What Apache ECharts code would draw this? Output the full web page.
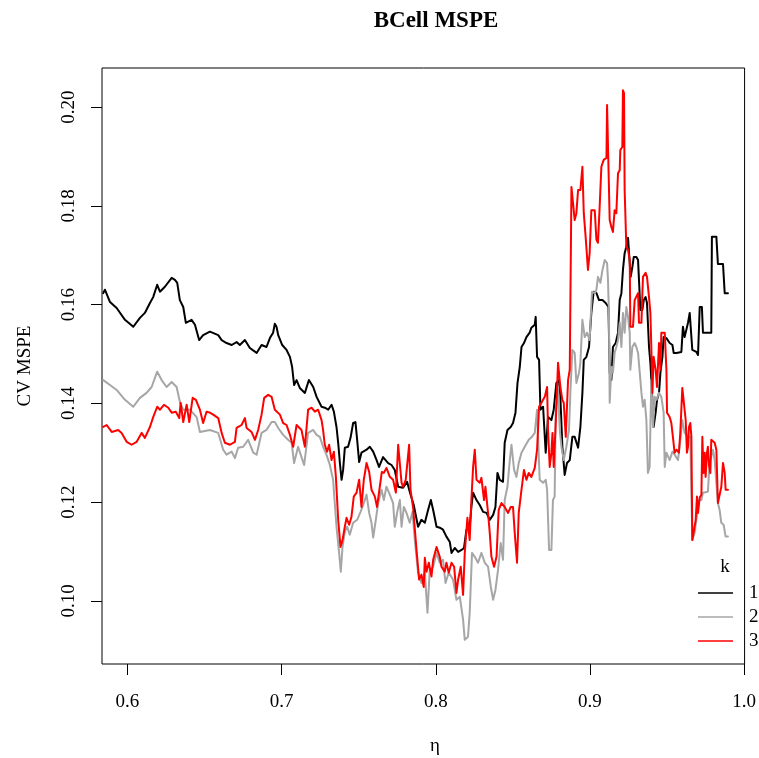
<!DOCTYPE html>
<html><head><meta charset="utf-8">
<script src="https://cdn.jsdelivr.net/npm/echarts@6/dist/echarts.min.js"></script>
<style>html,body{margin:0;padding:0;background:#fff}#c{width:759px;height:758px}</style>
</head><body><div id="c"></div>
<script>
// ---- data: k = 1 (black) ----
const etaK1 = [0.5843,0.5854,0.5887,0.5930,0.5984,0.6038,0.6081,0.6113,0.6146,0.6167,0.6193,0.6211,0.6243,0.6287,0.6308,0.6323,0.6340,0.6362,0.6379,0.6416,0.6438,0.6465,0.6491,0.6535,0.6546,0.6589,0.6611,0.6643,0.6676,0.6708,0.6729,0.6762,0.6794,0.6838,0.6870,0.6902,0.6924,0.6945,0.6956,0.6967,0.6978,0.7004,0.7032,0.7054,0.7068,0.7081,0.7097,0.7118,0.7151,0.7177,0.7205,0.7227,0.7259,0.7280,0.7302,0.7324,0.7339,0.7356,0.7367,0.7378,0.7389,0.7399,0.7410,0.7431,0.7447,0.7464,0.7479,0.7490,0.7503,0.7518,0.7551,0.7572,0.7594,0.7616,0.7632,0.7658,0.7691,0.7713,0.7734,0.7756,0.7788,0.7814,0.7831,0.7857,0.7885,0.7907,0.7929,0.7950,0.7968,0.7983,0.8005,0.8026,0.8047,0.8069,0.8091,0.8102,0.8123,0.8145,0.8167,0.8183,0.8199,0.8220,0.8231,0.8242,0.8264,0.8285,0.8307,0.8329,0.8350,0.8372,0.8387,0.8400,0.8415,0.8436,0.8447,0.8465,0.8486,0.8501,0.8517,0.8530,0.8545,0.8556,0.8572,0.8588,0.8609,0.8620,0.8642,0.8648,0.8657,0.8670,0.8679,0.8696,0.8713,0.8728,0.8750,0.8765,0.8782,0.8799,0.8808,0.8821,0.8836,0.8851,0.8869,0.8886,0.8901,0.8923,0.8938,0.8951,0.8960,0.8977,0.8994,0.9009,0.9024,0.9042,0.9059,0.9081,0.9102,0.9120,0.9128,0.9139,0.9149,0.9167,0.9182,0.9193,0.9204,0.9214,0.9225,0.9236,0.9247,0.9258,0.9264,0.9275,0.9284,0.9301,0.9312,0.9318,0.9327,0.9340,0.9349,0.9361,0.9370,0.9383,0.9392,0.9405,0.9413,0.9426,0.9435,0.9448,0.9457,0.9470,0.9478,0.9496,0.9517,0.9535,0.9543,0.9561,0.9593,0.9603,0.9614,0.9625,0.9636,0.9647,0.9658,0.9664,0.9690,0.9701,0.9712,0.9726,0.9733,0.9787,0.9791,0.9820,0.9830,0.9863,0.9874,0.9895];
const mspeK1 = [0.1623,0.1630,0.1605,0.1593,0.1569,0.1555,0.1573,0.1583,0.1603,0.1615,0.1640,0.1626,0.1636,0.1654,0.1650,0.1644,0.1609,0.1595,0.1563,0.1569,0.1559,0.1528,0.1538,0.1545,0.1549,0.1538,0.1528,0.1522,0.1518,0.1524,0.1518,0.1528,0.1512,0.1502,0.1518,0.1514,0.1532,0.1543,0.1561,0.1555,0.1538,0.1518,0.1508,0.1494,0.1474,0.1437,0.1447,0.1431,0.1421,0.1447,0.1433,0.1413,0.1393,0.1391,0.1387,0.1397,0.1383,0.1352,0.1320,0.1279,0.1245,0.1265,0.1310,0.1312,0.1330,0.1360,0.1362,0.1326,0.1281,0.1300,0.1306,0.1312,0.1302,0.1285,0.1271,0.1291,0.1279,0.1275,0.1265,0.1231,0.1229,0.1241,0.1221,0.1194,0.1150,0.1164,0.1158,0.1184,0.1204,0.1184,0.1150,0.1148,0.1144,0.1130,0.1119,0.1097,0.1107,0.1099,0.1103,0.1107,0.1144,0.1150,0.1190,0.1219,0.1204,0.1194,0.1180,0.1178,0.1164,0.1174,0.1190,0.1259,0.1245,0.1241,0.1320,0.1346,0.1352,0.1360,0.1381,0.1441,0.1474,0.1514,0.1522,0.1534,0.1543,0.1553,0.1559,0.1575,0.1494,0.1488,0.1387,0.1393,0.1300,0.1372,0.1366,0.1387,0.1441,0.1447,0.1413,0.1312,0.1255,0.1279,0.1285,0.1332,0.1332,0.1310,0.1352,0.1421,0.1488,0.1494,0.1514,0.1583,0.1626,0.1623,0.1609,0.1609,0.1603,0.1595,0.1462,0.1447,0.1514,0.1522,0.1543,0.1609,0.1623,0.1670,0.1704,0.1717,0.1735,0.1735,0.1656,0.1676,0.1696,0.1696,0.1690,0.1650,0.1589,0.1589,0.1609,0.1615,0.1603,0.1514,0.1482,0.1407,0.1352,0.1381,0.1407,0.1421,0.1462,0.1494,0.1534,0.1532,0.1522,0.1518,0.1502,0.1502,0.1504,0.1555,0.1534,0.1532,0.1563,0.1583,0.1579,0.1508,0.1504,0.1498,0.1595,0.1595,0.1543,0.1543,0.1737,0.1737,0.1682,0.1682,0.1623,0.1623];

// ---- data: k = 2 (gray) ----
const etaK2 = [0.5843,0.5887,0.5930,0.5984,0.6038,0.6081,0.6124,0.6157,0.6193,0.6222,0.6254,0.6287,0.6319,0.6340,0.6362,0.6405,0.6449,0.6470,0.6535,0.6546,0.6589,0.6621,0.6643,0.6676,0.6697,0.6718,0.6751,0.6783,0.6816,0.6838,0.6870,0.6902,0.6935,0.6956,0.6978,0.7010,0.7042,0.7065,0.7081,0.7107,0.7129,0.7146,0.7172,0.7205,0.7227,0.7248,0.7269,0.7291,0.7313,0.7334,0.7356,0.7373,0.7384,0.7395,0.7410,0.7425,0.7442,0.7464,0.7490,0.7512,0.7529,0.7551,0.7568,0.7583,0.7594,0.7611,0.7626,0.7648,0.7663,0.7680,0.7702,0.7723,0.7734,0.7749,0.7767,0.7778,0.7793,0.7810,0.7831,0.7849,0.7864,0.7885,0.7907,0.7929,0.7946,0.7961,0.7983,0.8005,0.8026,0.8047,0.8063,0.8084,0.8112,0.8134,0.8156,0.8177,0.8188,0.8209,0.8220,0.8235,0.8253,0.8274,0.8296,0.8318,0.8339,0.8357,0.8372,0.8387,0.8404,0.8421,0.8436,0.8447,0.8465,0.8480,0.8491,0.8508,0.8523,0.8538,0.8556,0.8577,0.8603,0.8624,0.8642,0.8657,0.8674,0.8696,0.8713,0.8722,0.8735,0.8750,0.8760,0.8771,0.8778,0.8793,0.8804,0.8815,0.8830,0.8847,0.8864,0.8873,0.8886,0.8901,0.8912,0.8929,0.8938,0.8951,0.8966,0.8981,0.8998,0.9013,0.9031,0.9042,0.9052,0.9068,0.9081,0.9096,0.9111,0.9117,0.9123,0.9128,0.9139,0.9149,0.9160,0.9171,0.9182,0.9193,0.9204,0.9214,0.9225,0.9236,0.9247,0.9258,0.9262,0.9275,0.9290,0.9301,0.9312,0.9323,0.9334,0.9344,0.9355,0.9366,0.9376,0.9387,0.9398,0.9409,0.9420,0.9431,0.9448,0.9463,0.9478,0.9485,0.9496,0.9506,0.9517,0.9535,0.9549,0.9571,0.9586,0.9599,0.9614,0.9636,0.9651,0.9664,0.9679,0.9690,0.9707,0.9723,0.9733,0.9765,0.9776,0.9798,0.9809,0.9820,0.9830,0.9841,0.9852,0.9867,0.9880,0.9895];
const mspeK2 = [0.1447,0.1437,0.1427,0.1407,0.1393,0.1411,0.1421,0.1433,0.1464,0.1447,0.1433,0.1443,0.1433,0.1403,0.1387,0.1387,0.1372,0.1342,0.1346,0.1350,0.1340,0.1306,0.1296,0.1302,0.1289,0.1310,0.1312,0.1326,0.1300,0.1296,0.1340,0.1346,0.1362,0.1362,0.1350,0.1336,0.1326,0.1320,0.1279,0.1312,0.1291,0.1275,0.1340,0.1346,0.1336,0.1332,0.1312,0.1296,0.1275,0.1245,0.1150,0.1097,0.1059,0.1109,0.1140,0.1150,0.1134,0.1158,0.1164,0.1180,0.1194,0.1215,0.1178,0.1158,0.1128,0.1164,0.1198,0.1225,0.1204,0.1231,0.1215,0.1198,0.1150,0.1178,0.1204,0.1150,0.1190,0.1178,0.1158,0.1180,0.1123,0.1057,0.1036,0.1057,0.0976,0.1063,0.1069,0.1097,0.1077,0.1083,0.1036,0.1057,0.1043,0.1002,0.1008,0.0962,0.0921,0.0927,0.0976,0.1097,0.1089,0.1077,0.1097,0.1077,0.1069,0.1028,0.1002,0.1022,0.1063,0.1117,0.1083,0.1204,0.1231,0.1285,0.1316,0.1265,0.1251,0.1279,0.1300,0.1312,0.1326,0.1332,0.1340,0.1387,0.1245,0.1239,0.1245,0.1225,0.1103,0.1103,0.1204,0.1211,0.1381,0.1433,0.1346,0.1312,0.1285,0.1312,0.1346,0.1421,0.1508,0.1502,0.1441,0.1462,0.1482,0.1569,0.1534,0.1543,0.1528,0.1626,0.1623,0.1630,0.1656,0.1644,0.1670,0.1690,0.1684,0.1650,0.1583,0.1401,0.1474,0.1462,0.1502,0.1514,0.1528,0.1563,0.1514,0.1583,0.1543,0.1595,0.1575,0.1543,0.1468,0.1514,0.1522,0.1514,0.1502,0.1462,0.1421,0.1393,0.1407,0.1366,0.1259,0.1271,0.1447,0.1352,0.1413,0.1407,0.1421,0.1413,0.1381,0.1271,0.1300,0.1300,0.1285,0.1302,0.1296,0.1285,0.1326,0.1366,0.1340,0.1332,0.1332,0.1123,0.1138,0.1164,0.1204,0.1204,0.1219,0.1221,0.1279,0.1306,0.1285,0.1239,0.1198,0.1184,0.1158,0.1154,0.1130,0.1130];

// ---- data: k = 3 (red) ----
const etaK3 = [0.5843,0.5865,0.5898,0.5940,0.5962,0.5995,0.6027,0.6060,0.6092,0.6113,0.6146,0.6167,0.6193,0.6211,0.6237,0.6265,0.6287,0.6314,0.6336,0.6345,0.6362,0.6384,0.6401,0.6423,0.6444,0.6470,0.6491,0.6513,0.6535,0.6556,0.6589,0.6611,0.6632,0.6665,0.6697,0.6708,0.6740,0.6762,0.6773,0.6805,0.6827,0.6848,0.6870,0.6887,0.6913,0.6935,0.6956,0.6989,0.7010,0.7032,0.7054,0.7075,0.7097,0.7129,0.7151,0.7172,0.7194,0.7216,0.7237,0.7259,0.7269,0.7280,0.7295,0.7308,0.7324,0.7339,0.7352,0.7367,0.7382,0.7395,0.7410,0.7421,0.7438,0.7453,0.7468,0.7486,0.7503,0.7518,0.7533,0.7551,0.7568,0.7583,0.7605,0.7619,0.7637,0.7650,0.7663,0.7680,0.7702,0.7723,0.7741,0.7756,0.7767,0.7778,0.7788,0.7805,0.7827,0.7836,0.7853,0.7875,0.7892,0.7907,0.7922,0.7929,0.7940,0.7955,0.7972,0.7983,0.8005,0.8026,0.8037,0.8058,0.8069,0.8084,0.8102,0.8119,0.8134,0.8145,0.8162,0.8177,0.8188,0.8205,0.8220,0.8231,0.8242,0.8253,0.8264,0.8285,0.8296,0.8313,0.8322,0.8339,0.8350,0.8361,0.8378,0.8394,0.8408,0.8426,0.8447,0.8469,0.8486,0.8501,0.8512,0.8527,0.8538,0.8556,0.8572,0.8588,0.8603,0.8620,0.8642,0.8657,0.8670,0.8685,0.8707,0.8722,0.8728,0.8739,0.8750,0.8757,0.8765,0.8778,0.8793,0.8808,0.8821,0.8830,0.8843,0.8858,0.8869,0.8880,0.8890,0.8901,0.8912,0.8923,0.8938,0.8951,0.8960,0.8972,0.8987,0.8998,0.9009,0.9031,0.9042,0.9052,0.9063,0.9074,0.9089,0.9107,0.9111,0.9123,0.9128,0.9139,0.9149,0.9160,0.9171,0.9182,0.9193,0.9197,0.9210,0.9214,0.9221,0.9225,0.9236,0.9247,0.9258,0.9262,0.9279,0.9290,0.9301,0.9312,0.9318,0.9334,0.9340,0.9344,0.9361,0.9370,0.9383,0.9392,0.9398,0.9405,0.9413,0.9426,0.9435,0.9448,0.9457,0.9463,0.9485,0.9496,0.9500,0.9517,0.9528,0.9538,0.9549,0.9561,0.9577,0.9586,0.9599,0.9608,0.9621,0.9629,0.9636,0.9642,0.9651,0.9658,0.9664,0.9673,0.9686,0.9694,0.9701,0.9712,0.9723,0.9729,0.9737,0.9744,0.9750,0.9759,0.9765,0.9772,0.9781,0.9787,0.9798,0.9809,0.9820,0.9830,0.9841,0.9852,0.9863,0.9874,0.9880,0.9895];
const mspeK3 = [0.1352,0.1356,0.1342,0.1346,0.1340,0.1322,0.1316,0.1322,0.1340,0.1330,0.1352,0.1372,0.1393,0.1387,0.1397,0.1391,0.1381,0.1383,0.1370,0.1401,0.1362,0.1397,0.1362,0.1411,0.1407,0.1387,0.1360,0.1383,0.1381,0.1377,0.1370,0.1340,0.1320,0.1316,0.1322,0.1350,0.1356,0.1370,0.1350,0.1342,0.1326,0.1346,0.1377,0.1411,0.1417,0.1413,0.1387,0.1377,0.1360,0.1356,0.1336,0.1312,0.1356,0.1346,0.1312,0.1387,0.1391,0.1383,0.1387,0.1366,0.1346,0.1316,0.1302,0.1316,0.1285,0.1302,0.1251,0.1164,0.1109,0.1123,0.1150,0.1168,0.1154,0.1170,0.1211,0.1219,0.1245,0.1190,0.1245,0.1279,0.1261,0.1225,0.1211,0.1190,0.1231,0.1261,0.1259,0.1269,0.1251,0.1245,0.1219,0.1316,0.1320,0.1239,0.1231,0.1245,0.1316,0.1225,0.1188,0.1103,0.1043,0.1053,0.1028,0.1087,0.1059,0.1077,0.1049,0.1083,0.1109,0.1089,0.1069,0.1059,0.1077,0.1057,0.1077,0.1069,0.1016,0.1043,0.1069,0.1012,0.1097,0.1168,0.1123,0.1204,0.1271,0.1306,0.1245,0.1239,0.1249,0.1204,0.1231,0.1178,0.1138,0.1089,0.1069,0.1089,0.1184,0.1198,0.1190,0.1178,0.1190,0.1190,0.1138,0.1077,0.1178,0.1225,0.1265,0.1245,0.1259,0.1251,0.1269,0.1306,0.1393,0.1401,0.1413,0.1433,0.1346,0.1271,0.1300,0.1340,0.1271,0.1360,0.1482,0.1433,0.1407,0.1401,0.1332,0.1447,0.1468,0.1838,0.1842,0.1771,0.1785,0.1832,0.1832,0.1879,0.1785,0.1737,0.1670,0.1704,0.1791,0.1791,0.1731,0.1725,0.1798,0.1879,0.1893,0.1897,0.2004,0.2004,0.1771,0.1757,0.1747,0.1791,0.1785,0.1866,0.1872,0.1913,0.1919,0.2034,0.2028,0.1832,0.1717,0.1711,0.1690,0.1555,0.1555,0.1609,0.1609,0.1623,0.1563,0.1563,0.1623,0.1656,0.1664,0.1656,0.1615,0.1583,0.1514,0.1421,0.1494,0.1468,0.1433,0.1522,0.1468,0.1543,0.1543,0.1468,0.1381,0.1372,0.1360,0.1332,0.1300,0.1306,0.1300,0.1340,0.1431,0.1427,0.1366,0.1300,0.1312,0.1352,0.1360,0.1332,0.1123,0.1123,0.1164,0.1211,0.1178,0.1209,0.1215,0.1332,0.1259,0.1300,0.1251,0.1300,0.1312,0.1275,0.1259,0.1326,0.1326,0.1320,0.1306,0.1198,0.1198,0.1231,0.1279,0.1259,0.1225,0.1225];

// ---- axis ticks / labels ----
const xTicks = [0.6, 0.7, 0.8, 0.9, 1.0];
const yTicks = [0.10, 0.12, 0.14, 0.16, 0.18, 0.20];
const kNames = ['1', '2', '3'];

const chartTitle = 'BCell MSPE';
const xName = 'η';
const yName = 'CV MSPE';
const legendTitle = 'k';

// ---- styles ----
const kColors = ['#000000', '#A6A6A6', '#FF0000'];
const serif = "'Liberation Serif', 'DejaVu Serif', serif";

const zip = (xs, ys) => xs.map((x, i) => [x, ys[i]]);
const seriesData = [zip(etaK1, mspeK1), zip(etaK2, mspeK2), zip(etaK3, mspeK3)];

const chart = echarts.init(document.getElementById('c'), null, {renderer: 'canvas'});

const legendY = [593, 617, 641];
const legendGraphics = [{
  type: 'text', x: 725, y: 567,
  style: {text: legendTitle, font: '19px ' + serif, fill: '#000', textAlign: 'center', textVerticalAlign: 'middle'}
}];
kNames.forEach((n, i) => {
  legendGraphics.push({type: 'line', shape: {x1: 698, y1: legendY[i], x2: 733, y2: legendY[i]},
    style: {stroke: kColors[i], lineWidth: 1.3}});
  legendGraphics.push({type: 'text', x: 749, y: legendY[i],
    style: {text: n, font: '19px ' + serif, fill: '#000', textAlign: 'left', textVerticalAlign: 'middle'}});
});

chart.setOption({
  animation: false,
  backgroundColor: '#ffffff',
  grid: {left: 102, right: 14, top: 68, bottom: 94, show: true, borderColor: '#000', borderWidth: 1, backgroundColor: 'transparent'},
  xAxis: {
    type: 'value', min: 0.5835, max: 1.0003,
    axisLine: {show: false},
    splitLine: {show: false},
    axisTick: {show: true, inside: false, length: 11, customValues: xTicks, lineStyle: {color: '#000', width: 1}},
    axisLabel: {show: true, customValues: xTicks, margin: 29, color: '#000', fontFamily: serif, fontSize: 19,
      formatter: v => v.toFixed(1)}
  },
  yAxis: {
    type: 'value', min: 0.0872, max: 0.2079,
    axisLine: {show: false},
    splitLine: {show: false},
    axisTick: {show: true, inside: false, length: 11, customValues: yTicks, lineStyle: {color: '#000', width: 1}},
    axisLabel: {show: true, customValues: yTicks, rotate: 90, margin: 23, color: '#000', fontFamily: serif, fontSize: 19,
      formatter: v => v.toFixed(2)}
  },
  series: seriesData.map((d, i) => ({
    type: 'line', name: kNames[i], data: d, showSymbol: false, symbol: 'none',
    lineStyle: {color: kColors[i], width: 2, join: 'round', cap: 'round'},
    z: 2 + i
  })),
  graphic: [
    {type: 'text', x: 436, y: 21, style: {text: chartTitle, font: 'bold 23px ' + serif, fill: '#000', textAlign: 'center', textVerticalAlign: 'middle'}},
    {type: 'text', x: 435, y: 746, style: {text: xName, font: '19px ' + serif, fill: '#000', textAlign: 'center', textVerticalAlign: 'middle'}},
    {type: 'text', x: 25, y: 366, rotation: Math.PI / 2, style: {text: yName, font: '19px ' + serif, fill: '#000', textAlign: 'center', textVerticalAlign: 'middle'}}
  ].concat(legendGraphics)
});
</script>
</body></html>
